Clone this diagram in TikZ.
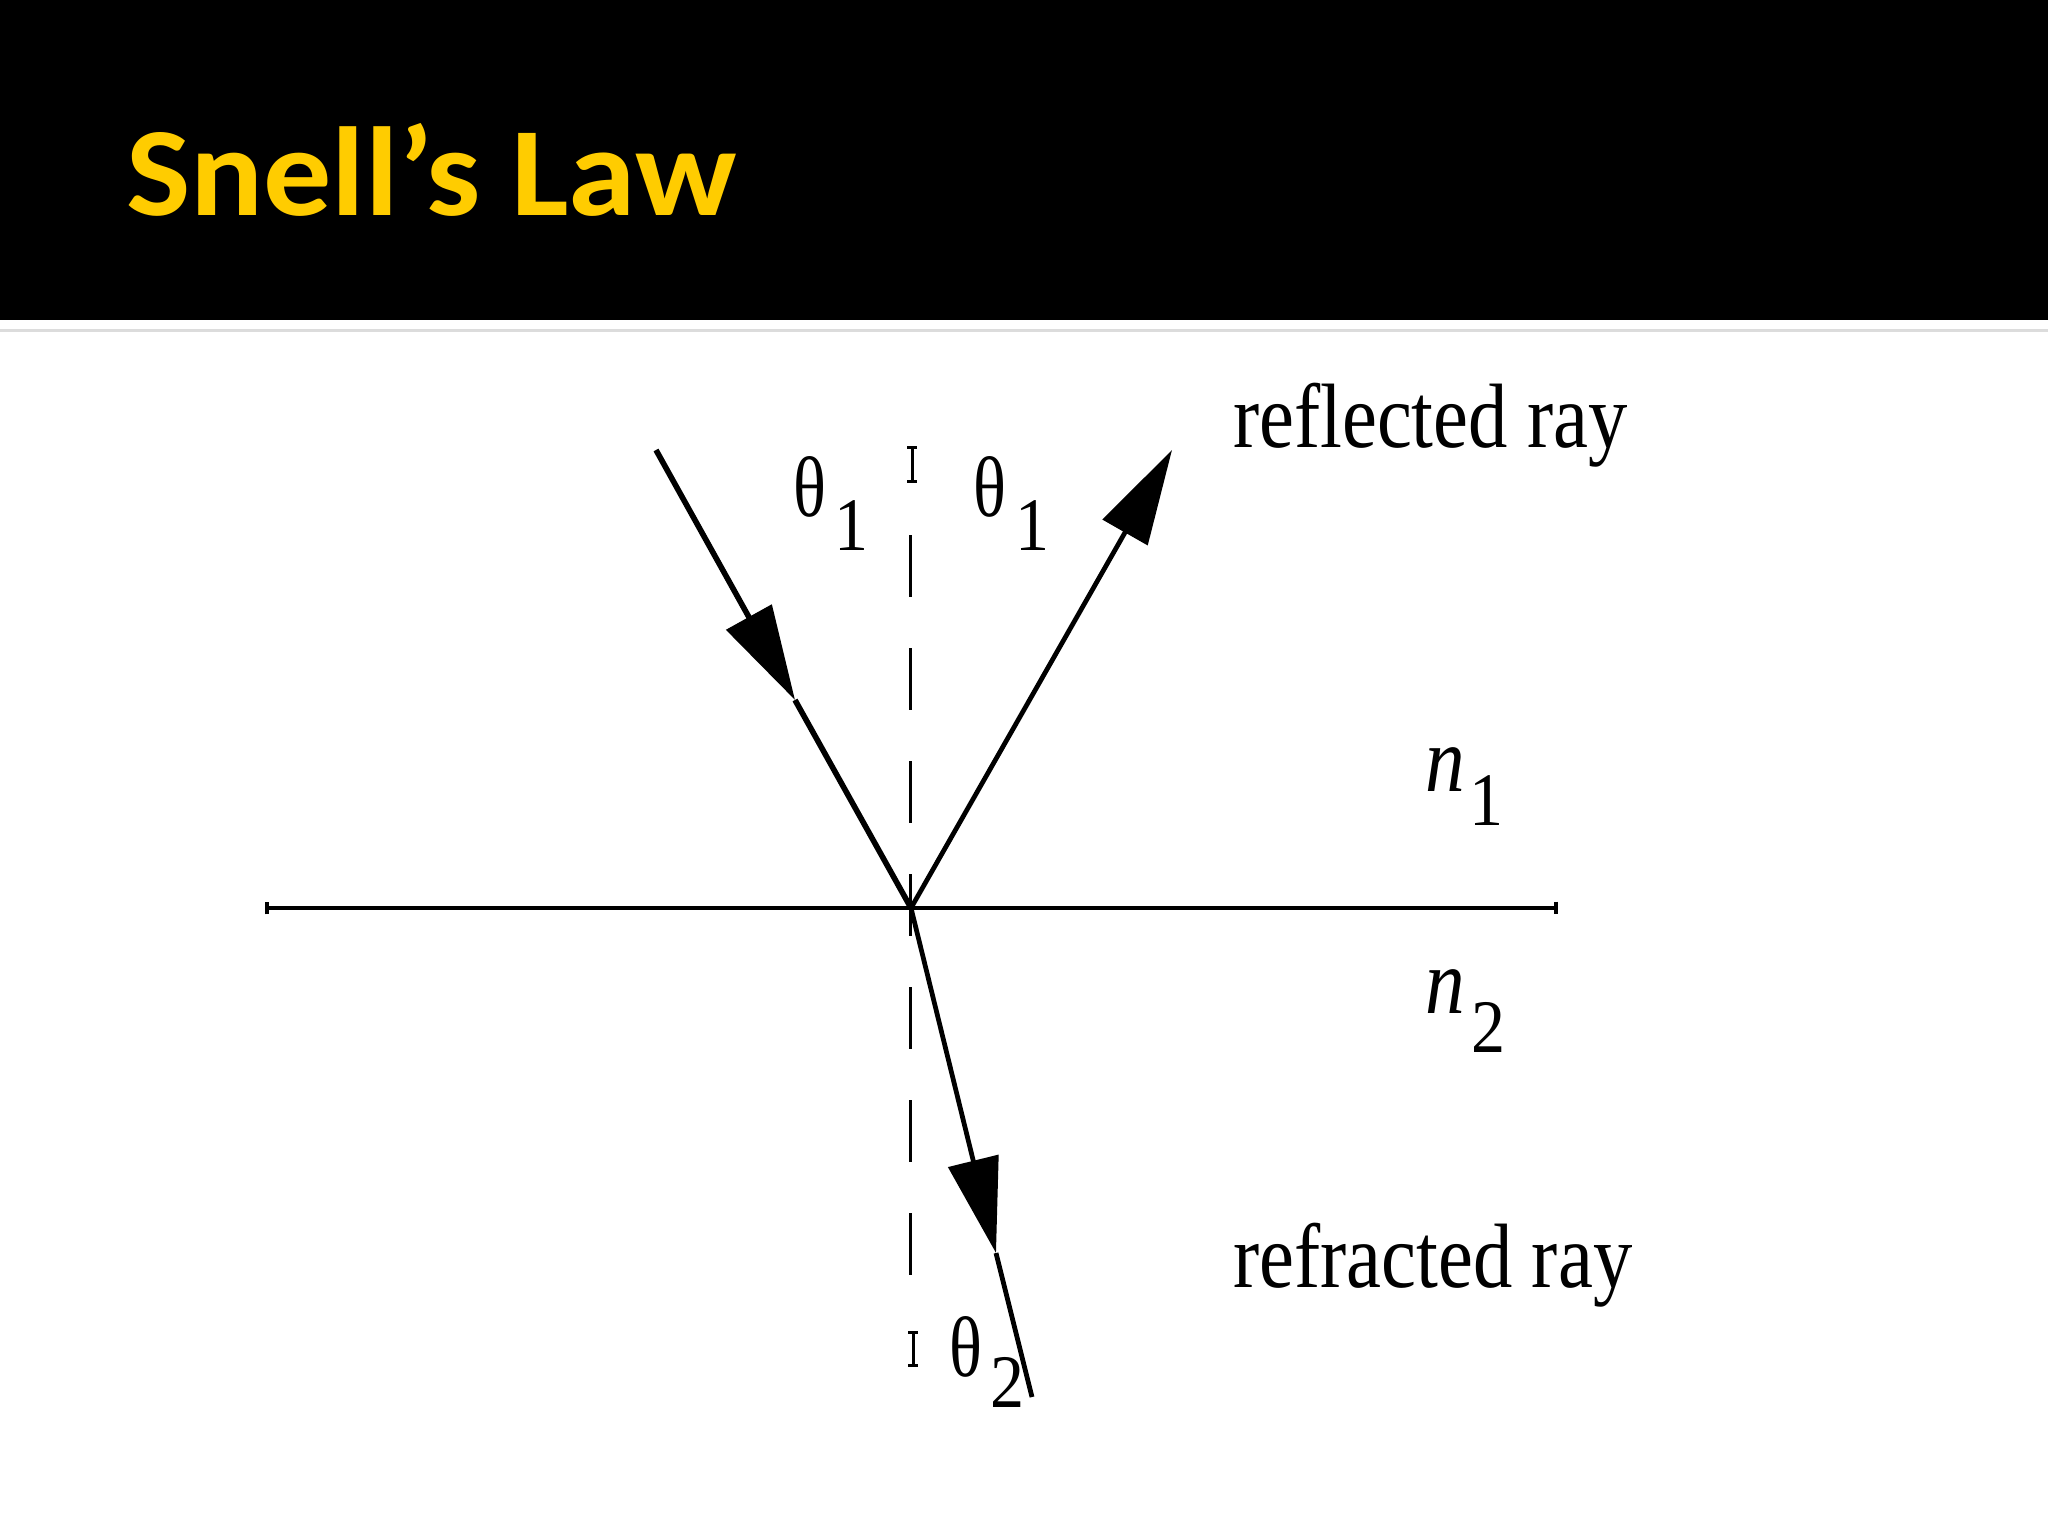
\documentclass[tikz,border=0pt]{standalone}
\usepackage{fontspec}
\setmainfont{Liberation Serif}
\newfontfamily\titlefont[FakeStretch=1.075]{Carlito}
\newfontfamily\rayfont[FakeStretch=0.86]{Liberation Serif}
\newfontfamily\thfont[FakeStretch=0.8]{Liberation Serif}
\newfontfamily\subfont[FakeStretch=0.9]{Liberation Serif}
\newfontfamily\nfont[FakeStretch=0.85]{Liberation Serif}
\usetikzlibrary{arrows.meta}
\definecolor{titlegold}{RGB}{255,204,0}
\definecolor{rulegray}{RGB}{220,220,220}
\tikzset{
  lbl/.style={anchor=base west, inner sep=0pt, outer sep=0pt},
  raytext/.style={lbl, font=\rayfont\fontsize{26pt}{30pt}\selectfont},
  thsym/.style={lbl, font=\thfont\fontsize{24.4pt}{28pt}\selectfont},
  subsym/.style={lbl, font=\subfont\fontsize{21.5pt}{25pt}\selectfont},
  nsym/.style={lbl, font=\nfont\itshape\fontsize{26.5pt}{30pt}\selectfont},
  ray/.style={line width=1.6pt, line cap=butt},
  thinray/.style={line width=1.35pt, line cap=butt},
  rayhead/.style={-{Triangle[length=27pt,width=14.5pt]}},
  normalline/.style={line width=0.85pt, dash pattern=on 6.2mm off 5.1mm},
  tickmark/.style={line width=0.85pt},
  interface/.style={line width=1.1pt, {Bar[width=3.6pt]}-{Bar[width=3.6pt]}}
}
\begin{document}
\begin{tikzpicture}[x=0.01cm,y=-0.01cm]
\useasboundingbox (0,0) rectangle (2048,1536);
% title bar
\fill[black] (0,0) rectangle (2048,320);
\fill[rulegray] (0,329) rectangle (2048,332);
\node[lbl, text=titlegold, font=\titlefont\bfseries\fontsize{36pt}{40pt}\selectfont] (title) at (126,215) {Snell’s Law};

% coordinates
\coordinate (P) at (911,908);
\coordinate (inS) at (656,450);
\coordinate (inTip) at (795,700);
\coordinate (rlE) at (1172,450);
\coordinate (rfTip) at (996,1253);
\coordinate (rfE) at (1032,1397);
\coordinate (ifL) at (265,908);
\coordinate (ifR) at (1558,908);
\coordinate (nT) at (910,535);
\coordinate (nB) at (910,1283);

% interface
\draw[interface] (ifL) -- (ifR);
% normal
\draw[normalline] (nT) -- (nB);
\draw[tickmark] (912,447) -- (912,481) (907,447) -- (917,447) (907,481) -- (917,481);
\draw[tickmark] (913,1332) -- (913,1365) (908,1332) -- (918,1332) (908,1365) -- (918,1365);

% rays
\draw[ray, rayhead] (inS) -- (inTip);
\draw[ray] (inTip) -- (P);
\draw[thinray, rayhead] (P) -- (rlE);
\draw[thinray, rayhead] (P) -- (rfTip);
\draw[thinray] (rfTip) -- (rfE);

% labels
\node[raytext] (reflbl) at (1233,447) {reflected ray};
\node[raytext] (refrlbl) at (1233,1287) {refracted ray};

\node[thsym] (thA) at (793,516) {θ};
\node[subsym] (thAs) at (834,550) {1};
\node[thsym] (thB) at (973,516) {θ};
\node[subsym] (thBs) at (1015,550) {1};
\node[thsym] (thC) at (949,1376) {θ};
\node[subsym] (thCs) at (990,1407) {2};

\node[nsym] (nA) at (1425,791) {n};
\node[subsym] (nAs) at (1469,825) {1};
\node[nsym] (nB) at (1425,1013) {n};
\node[subsym] (nBs) at (1471,1052) {2};
\end{tikzpicture}
\end{document}
